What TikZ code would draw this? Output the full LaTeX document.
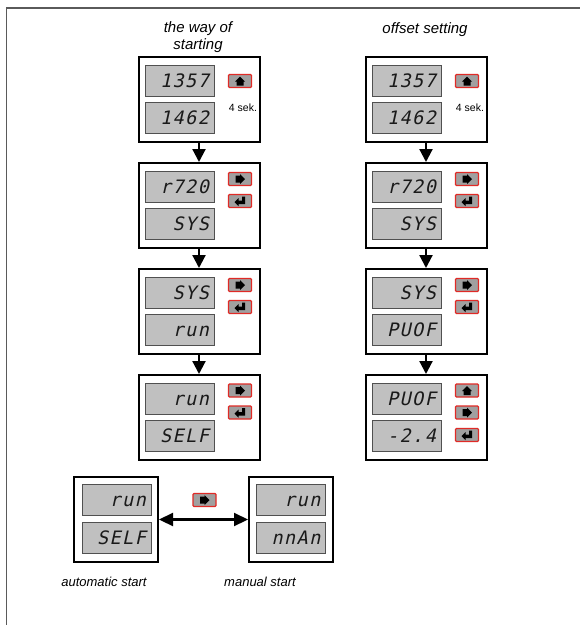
\documentclass[tikz,border=0pt]{standalone}
\usepackage{fontspec}
\setmainfont{Liberation Sans}
\newfontfamily\segfont{DejaVu Sans Mono}[FakeSlant=0.22,LetterSpace=8]
\usetikzlibrary{arrows.meta}
\definecolor{btnred}{HTML}{E02A26}
\definecolor{dispfill}{HTML}{C0C0C0}
\definecolor{dispedge}{HTML}{505050}
\definecolor{btnfill}{HTML}{A0A0A0}
\definecolor{framegray}{HTML}{5A5A5A}
\definecolor{segink}{HTML}{1A1A1A}
\begin{document}
\begin{tikzpicture}[x=1pt,y=-1pt,
  panel/.style={draw=black, line width=2pt, fill=white, minimum width=121pt, minimum height=85pt, inner sep=0pt},
  bpanel/.style={panel, minimum width=84pt},
  disp/.style={draw=dispedge, line width=0.9pt, fill=dispfill, text width=59pt, inner xsep=5pt, inner ysep=0pt,
    minimum height=31pt, align=right, text height=13.5pt, text depth=0pt, text=segink,
    font=\segfont\fontsize{18.5}{19}\selectfont},
  btn/.style={draw=btnred, line width=1.2pt, fill=btnfill, minimum width=23pt, minimum height=13pt, inner sep=0pt, rounded corners=1pt},
  flow/.style={line width=2.2pt, -{Triangle[width=13pt,length=13pt]}},
  dflow/.style={line width=2.2pt, {Triangle[width=13pt,length=14pt]}-{Triangle[width=13pt,length=14pt]}},
  title/.style={font=\itshape\fontsize{15}{17}\selectfont},
  caption/.style={font=\itshape\fontsize{13}{15}\selectfont},
  note/.style={font=\fontsize{10.5}{12}\selectfont},
  upicon/.pic={\fill[black] (-3.5,4.5) -- (3.5,4.5) -- (3.5,0.5) -- (5,0.5) -- (0,-4.5) -- (-5,0.5) -- (-3.5,0.5) -- cycle;},
  righticon/.pic={\fill[black] (-4.5,-3.5) -- (0,-3.5) -- (0,-5) -- (5,0) -- (0,5) -- (0,3.5) -- (-4.5,3.5) -- cycle;},
  entericon/.pic={\fill[black] (-5.5,1.2) -- (-1.5,-3) -- (-1.5,-0.5) -- (2,-0.5) -- (2,-4.5) -- (5,-4.5) -- (5,3) -- (-1.5,3) -- (-1.5,5.2) -- cycle;}
]
\useasboundingbox (0,0) rectangle (580,625);
% frame
\draw[framegray, line width=1.3pt] (6.5,625) -- (6.5,8) -- (580,8);

% titles
\node[title] (t1) at (198,29) {the way of};
\node[title] (t2) at (198,46) {starting};
\node[title] (t3) at (425,30) {offset setting};

% ---------- left column ----------
\node[panel] (L1) at (199,99.5) {};
\node[disp] (L1a) at (179.5,80.5) {1357};
\node[disp] (L1b) at (179.5,117.5) {1462};
\node[btn] (L1u) at (240,81) {};
\pic at (L1u) {upicon};
\node[note] (L1n) at (243,108) {4 sek.};

\node[panel] (L2) at (199,205.5) {};
\node[disp] (L2a) at (179.5,186.5) {r720};
\node[disp] (L2b) at (179.5,223.5) {SYS};
\node[btn] (L2r) at (240,179) {};
\node[btn] (L2e) at (240,201) {};
\pic at (L2r) {righticon};
\pic at (L2e) {entericon};

\node[panel] (L3) at (199,311.5) {};
\node[disp] (L3a) at (179.5,292.5) {SYS};
\node[disp] (L3b) at (179.5,329.5) {run};
\node[btn] (L3r) at (240,285) {};
\node[btn] (L3e) at (240,307) {};
\pic at (L3r) {righticon};
\pic at (L3e) {entericon};

\node[panel] (L4) at (199,417.5) {};
\node[disp] (L4a) at (179.5,398.5) {run};
\node[disp] (L4b) at (179.5,435.5) {SELF};
\node[btn] (L4r) at (240,390.5) {};
\node[btn] (L4e) at (240,412.5) {};
\pic at (L4r) {righticon};
\pic at (L4e) {entericon};

\draw[flow] (L1) -- (L2);
\draw[flow] (L2) -- (L3);
\draw[flow] (L3) -- (L4);

% ---------- right column ----------
\node[panel] (R1) at (426,99.5) {};
\node[disp] (R1a) at (406.5,80.5) {1357};
\node[disp] (R1b) at (406.5,117.5) {1462};
\node[btn] (R1u) at (467,81) {};
\pic at (R1u) {upicon};
\node[note] (R1n) at (470,108) {4 sek.};

\node[panel] (R2) at (426,205.5) {};
\node[disp] (R2a) at (406.5,186.5) {r720};
\node[disp] (R2b) at (406.5,223.5) {SYS};
\node[btn] (R2r) at (467,179) {};
\node[btn] (R2e) at (467,201) {};
\pic at (R2r) {righticon};
\pic at (R2e) {entericon};

\node[panel] (R3) at (426,311.5) {};
\node[disp] (R3a) at (406.5,292.5) {SYS};
\node[disp] (R3b) at (406.5,329.5) {PUOF};
\node[btn] (R3r) at (467,285) {};
\node[btn] (R3e) at (467,307) {};
\pic at (R3r) {righticon};
\pic at (R3e) {entericon};

\node[panel] (R4) at (426,417.5) {};
\node[disp] (R4a) at (406.5,398.5) {PUOF};
\node[disp] (R4b) at (406.5,435.5) {-2.4};
\node[btn] (R4u) at (467,390.5) {};
\node[btn] (R4r) at (467,412.5) {};
\node[btn] (R4e) at (467,435) {};
\pic at (R4u) {upicon};
\pic at (R4r) {righticon};
\pic at (R4e) {entericon};

\draw[flow] (R1) -- (R2);
\draw[flow] (R2) -- (R3);
\draw[flow] (R3) -- (R4);

% ---------- bottom row ----------
\node[bpanel] (B1) at (116,519.5) {};
\node[disp] (B1a) at (116.5,499.5) {run};
\node[disp] (B1b) at (116.5,537.5) {SELF};
\node[bpanel] (B2) at (291,519.5) {};
\node[disp] (B2a) at (291,499.5) {run};
\node[disp] (B2b) at (291,537.5) {nnAn};
\node[btn] (Bb) at (204.5,500) {};
\pic at (Bb) {righticon};
\draw[dflow] (B1) -- (B2);

\node[caption] (c1) at (104,582) {automatic start};
\node[caption] (c2) at (260,582) {manual start};
\end{tikzpicture}
\end{document}
